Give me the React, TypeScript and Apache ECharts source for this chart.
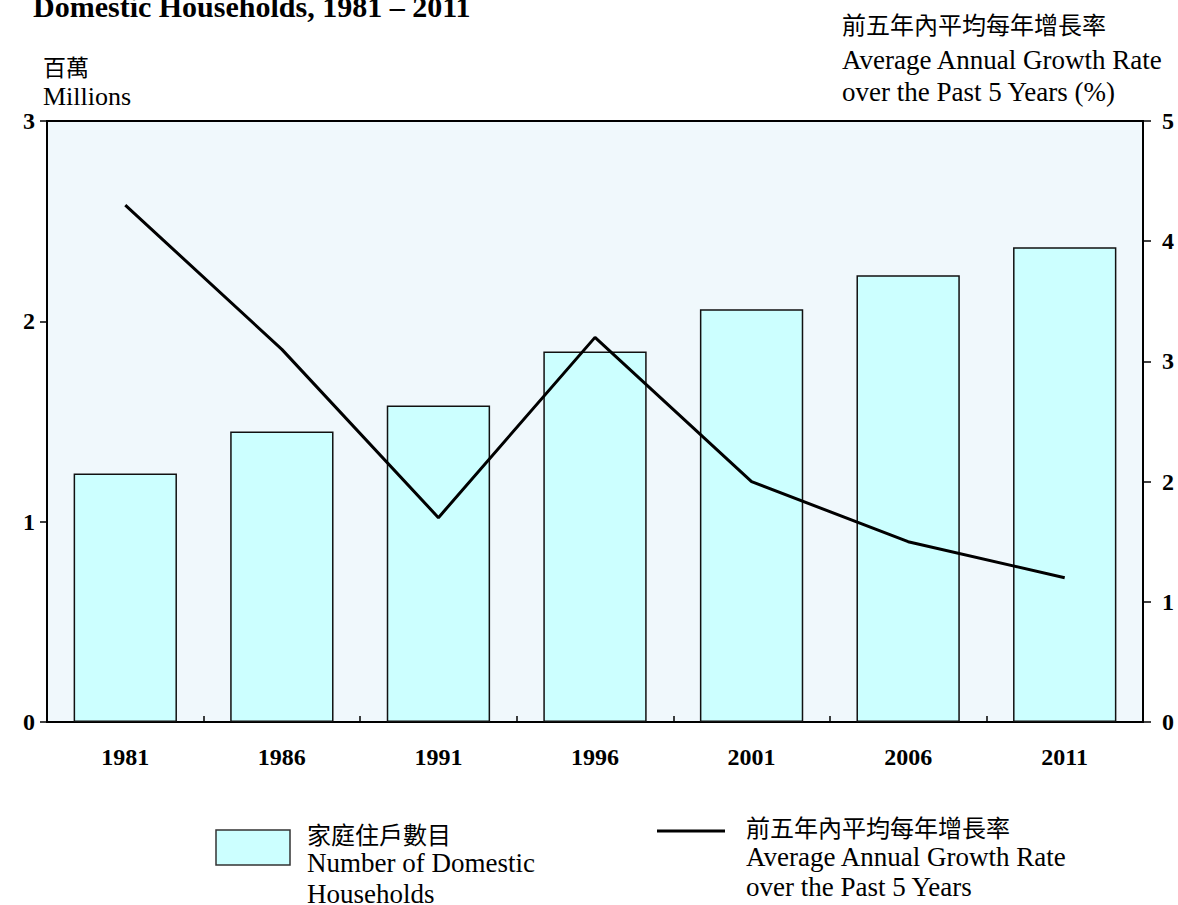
import React, { useEffect, useRef } from "react";
import * as echarts from "echarts";

const years = ["1981", "1986", "1991", "1996", "2001", "2006", "2011"];
const households = [1.24, 1.45, 1.58, 1.85, 2.06, 2.23, 2.37];
const growthRate = [4.3, 3.1, 1.7, 3.2, 2.0, 1.5, 1.2];
const leftTicks = [0, 1, 2, 3];
const rightTicks = [0, 1, 2, 3, 4, 5];

const SERIF = "'Liberation Serif', 'Times New Roman', serif";
const CJK = "'Noto Sans CJK TC', 'Noto Sans CJK SC', sans-serif";

export default function App() {
  const ref = useRef<HTMLDivElement>(null);
  useEffect(() => {
    if (!ref.current) return;
    const chart = echarts.init(ref.current, null, { renderer: "svg" });
    const textStyle = (x: number, y: number, text: string, font: string, size: number, weight = "normal") => ({
      type: "text",
      x,
      y,
      style: {
        text,
        fill: "#000",
        fontFamily: font,
        fontSize: size,
        fontWeight: weight,
        verticalAlign: "middle",
        align: "left",
      },
    });
    chart.setOption({
      animation: false,
      backgroundColor: "#fff",
      grid: {
        left: 47,
        right: 35,
        top: 121,
        bottom: 183,
        show: true,
        backgroundColor: "#F0F8FC",
        borderColor: "#000",
        borderWidth: 2,
        containLabel: false,
      },
      xAxis: {
        type: "category",
        data: years,
        boundaryGap: true,
        axisLine: { show: true, lineStyle: { color: "#000", width: 2 } },
        axisTick: { show: true, inside: true, length: 6, lineStyle: { color: "#000", width: 1.5 } },
        axisLabel: {
          color: "#000",
          fontFamily: SERIF,
          fontWeight: "bold",
          fontSize: 24,
          margin: 23,
        },
        splitLine: { show: false },
      },
      yAxis: [
        {
          type: "value",
          min: 0,
          max: leftTicks[leftTicks.length - 1],
          interval: 1,
          axisLine: { show: true, lineStyle: { color: "#000", width: 2 } },
          axisTick: { show: true, length: 7, lineStyle: { color: "#000", width: 1.5 } },
          axisLabel: {
            color: "#000",
            fontFamily: SERIF,
            fontWeight: "bold",
            fontSize: 24,
            margin: 12,
          },
          splitLine: { show: false },
        },
        {
          type: "value",
          position: "right",
          min: 0,
          max: rightTicks[rightTicks.length - 1],
          interval: 1,
          axisLine: { show: true, lineStyle: { color: "#000", width: 2 } },
          axisTick: { show: true, length: 8, lineStyle: { color: "#000", width: 1.5 } },
          axisLabel: {
            color: "#000",
            fontFamily: SERIF,
            fontWeight: "bold",
            fontSize: 24,
            margin: 19,
          },
          splitLine: { show: false },
        },
      ],
      series: [
        {
          name: "Number of Domestic Households",
          type: "bar",
          yAxisIndex: 0,
          data: households,
          barCategoryGap: "34%",
          itemStyle: { color: "#CCFFFF", borderColor: "#111", borderWidth: 1.5 },
        },
        {
          name: "Average Annual Growth Rate over the Past 5 Years",
          type: "line",
          yAxisIndex: 1,
          data: growthRate,
          symbol: "none",
          lineStyle: { color: "#000", width: 3 },
          z: 5,
        },
      ],
      graphic: [
        textStyle(33, 6, "Domestic Households, 1981 – 2011", SERIF, 30, "bold"),
        textStyle(43, 66, "百萬", CJK, 23),
        textStyle(43, 96, "Millions", SERIF, 26),
        textStyle(842, 23, "前五年內平均每年增長率", CJK, 24),
        textStyle(842, 60, "Average Annual Growth Rate", SERIF, 27),
        textStyle(842, 92, "over the Past 5 Years (%)", SERIF, 27),
        {
          type: "rect",
          shape: { x: 216, y: 830, width: 74, height: 35 },
          style: { fill: "#CCFFFF", stroke: "#333", lineWidth: 1.5 },
        },
        textStyle(307, 833, "家庭住戶數目", CJK, 24),
        textStyle(307, 863, "Number of Domestic", SERIF, 27),
        textStyle(307, 894, "Households", SERIF, 27),
        {
          type: "line",
          shape: { x1: 657, y1: 831, x2: 725, y2: 831 },
          style: { stroke: "#000", lineWidth: 3 },
        },
        textStyle(746, 826, "前五年內平均每年增長率", CJK, 24),
        textStyle(746, 857, "Average Annual Growth Rate", SERIF, 27),
        textStyle(746, 887, "over the Past 5 Years", SERIF, 27),
      ],
    });
    return () => chart.dispose();
  }, []);
  return (
    <div
      ref={ref}
      style={{ position: "fixed", left: 0, top: 0, width: 1178, height: 905 }}
    />
  );
}
